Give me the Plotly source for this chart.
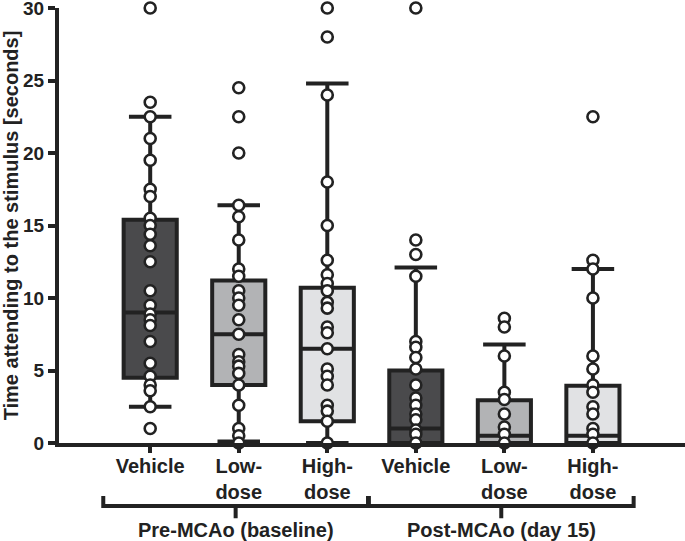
import plotly.graph_objects as go

# ---- data ----
categories = ["Vehicle", "Low-<br>dose", "High-<br>dose", "Vehicle", "Low-<br>dose", "High-<br>dose"]
groups = ["Pre-MCAo (baseline)", "Post-MCAo (day 15)"]
group_members = [[0, 1, 2], [3, 4, 5]]

pre_vehicle = [30, 23.5, 22.5, 21, 19.5, 17.5, 17, 15.5, 15, 14.4, 13.6, 12.5, 10.5, 9.5, 8.9, 8.5, 8.1, 7, 5.5, 4.6, 4, 3.6, 2.5, 1]
pre_low = [24.5, 22.5, 20, 16.4, 15.6, 14, 12, 11.5, 10.5, 10, 9.5, 8.5, 7.5, 6.1, 5.6, 5.3, 4.8, 4, 2.6, 1, 0.5, 0]
pre_high = [30, 28, 24, 18, 15, 12.6, 11.6, 11, 10.5, 9.7, 9.3, 8, 7.6, 6.5, 5.1, 4.6, 4, 2.6, 2.2, 1.5, 0]
post_vehicle = [30, 14, 13, 11.5, 7, 6.6, 5.9, 5.1, 4, 3.1, 2.6, 2, 1.6, 0.9, 0.6, 0]
post_low = [8.6, 8, 6, 3.5, 3, 2, 1.1, 0.6, 0]
post_high = [22.5, 12.6, 12, 10, 6, 5.1, 4, 3.5, 2.5, 2, 1, 0.6, 0]
series = [pre_vehicle, pre_low, pre_high, post_vehicle, post_low, post_high]

q1 = [4.5, 4.0, 1.5, 0, 0, 0]
median = [9.0, 7.5, 6.5, 1.0, 0.5, 0.5]
q3 = [15.4, 11.2, 10.7, 5.0, 2.95, 3.95]
lowerfence = [2.5, 0.1, 0, 0, 0, 0]
upperfence = [22.5, 16.4, 24.8, 12.1, 6.8, 12.0]

fills = ["#4a4a4c", "#b2b3b5", "#e1e2e4", "#4a4a4c", "#b2b3b5", "#e1e2e4"]
ink = "#222222"
y_ticks = [0, 5, 10, 15, 20, 25, 30]

font_family = "Liberation Sans, Arial, sans-serif"

fig = go.Figure()

for i in range(len(series)):
    fig.add_trace(go.Box(
        x=[i], q1=[q1[i]], median=[median[i]], q3=[q3[i]],
        lowerfence=[lowerfence[i]], upperfence=[upperfence[i]],
        width=0.6, whiskerwidth=0.8,
        fillcolor=fills[i], line=dict(color=ink, width=4),
        boxpoints=False, hoverinfo="skip", showlegend=False,
    ))

for i, vals in enumerate(series):
    fig.add_trace(go.Scatter(
        x=[i] * len(vals), y=vals, mode="markers",
        marker=dict(symbol="circle", size=11, color="white",
                    line=dict(color=ink, width=2.6)),
        cliponaxis=False, hoverinfo="skip", showlegend=False,
    ))

# group brackets (paper-y, data-x)
br_y = -0.145
br_up = -0.122
br_down = -0.173
for g, members in enumerate(group_members):
    x0 = members[0] - 0.53
    x1 = members[-1] + 0.46
    xm = (x0 + x1) / 2
    path = f"M {x0},{br_up} L {x0},{br_y} L {x1},{br_y} L {x1},{br_up} M {xm},{br_y} L {xm},{br_down}"
    fig.add_shape(type="path", path=path, xref="x", yref="paper",
                  line=dict(color=ink, width=4))
    fig.add_annotation(x=xm, y=-0.2, xref="x", yref="paper", text=groups[g],
                       showarrow=False, yanchor="middle", xanchor="center",
                       font=dict(family=font_family, size=20, color=ink, weight="bold"))

fig.update_layout(
    width=685, height=541,
    margin=dict(l=59, r=0, t=8, b=98, autoexpand=False),
    paper_bgcolor="white", plot_bgcolor="white",
    boxmode="overlay", showlegend=False, hovermode=False,
    font=dict(family=font_family, color=ink, size=20, weight="bold"),
)
fig.update_xaxes(
    range=[-1.03, 6.04], tickmode="array", tickvals=list(range(6)), ticktext=categories,
    showline=True, linewidth=4, linecolor=ink, ticks="outside", ticklen=6, tickwidth=4,
    tickcolor=ink, showgrid=False, zeroline=False, automargin=False,
    ticklabeloverflow="allow", ticklabelstandoff=-4,
    tickfont=dict(family=font_family, size=20, color=ink, weight="bold"),
)
fig.update_yaxes(
    range=[0, 30], tickmode="array", tickvals=y_ticks,
    showline=True, linewidth=4, linecolor=ink, ticks="outside", ticklen=7, tickwidth=4,
    tickcolor=ink, showgrid=False, zeroline=False, automargin=False,
    ticklabeloverflow="allow",
    tickfont=dict(family=font_family, size=19, color=ink, weight="bold"),
    title=dict(text="Time attending to the stimulus [seconds]", standoff=6,
               font=dict(family=font_family, size=20, color=ink, weight="bold")),
)

fig.write_html(
    "out.html",
    config={"displayModeBar": False, "staticPlot": True},
    post_script="document.body.style.margin='0';document.body.style.overflow='hidden';",
)
